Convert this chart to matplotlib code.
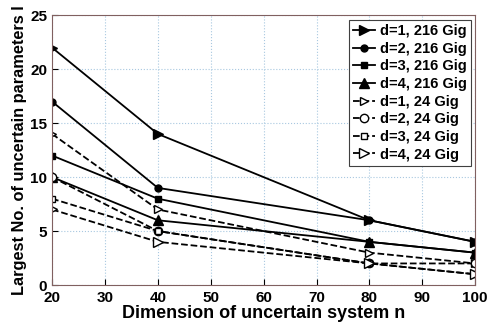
import matplotlib.pyplot as plt

plt.rcParams['font.family'] = ['Liberation Sans', 'DejaVu Sans']
plt.rcParams['font.weight'] = 'bold'

n = [20, 40, 80, 100]

# 216 Gig series
d1_216 = [22, 14, 6, 4]
d2_216 = [17, 9, 6, 4]
d3_216 = [12, 8, 4, 3]
d4_216 = [10, 6, 4, 3]

# 24 Gig series
d1_24 = [14, 7, 3, 2]
d2_24 = [10, 5, 2, 2]
d3_24 = [8, 5, 2, 1]
d4_24 = [7, 4, 2, 1]

fig = plt.figure(figsize=(4.96, 3.25), dpi=100)
ax = fig.add_axes([0.105, 0.123, 0.853, 0.83])

ax.plot(n, d1_216, 'k-', marker='>', ms=7, lw=1.3, label='d=1, 216 Gig')
ax.plot(n, d2_216, 'k-', marker='o', ms=5, lw=1.3, label='d=2, 216 Gig')
ax.plot(n, d3_216, 'k-', marker='s', ms=5, lw=1.3, label='d=3, 216 Gig')
ax.plot(n, d4_216, 'k-', marker='^', ms=7, lw=1.3, label='d=4, 216 Gig')
ax.plot(n, d1_24, 'k--', marker='>', ms=6, lw=1.3, mfc='white', label='d=1, 24 Gig')
ax.plot(n, d2_24, 'k--', marker='o', ms=6, lw=1.3, mfc='white', label='d=2, 24 Gig')
ax.plot(n, d3_24, 'k--', marker='s', ms=4.5, lw=1.3, mfc='white', label='d=3, 24 Gig')
ax.plot(n, d4_24, 'k--', marker='>', ms=7, lw=1.3, mfc='white', label='d=4, 24 Gig')

ax.set_xlim(20, 100)
ax.set_ylim(0, 25)
ax.set_xticks(range(20, 101, 10))
ax.set_yticks(range(0, 26, 5))
ax.tick_params(direction='in', labelsize=11, length=4)
ax.tick_params(axis='x', pad=4)
ax.grid(True, linestyle=':', color='#a8c8e0', lw=0.8)
for s in ax.spines.values():
    s.set_color('#806060')

ax.set_xlabel('Dimension of uncertain system n', fontsize=13, fontweight='bold', labelpad=0)
ax.set_ylabel('Largest No. of uncertain parameters l', fontsize=11.8, fontweight='bold', labelpad=2)

leg = ax.legend(loc='upper right', fontsize=10.5, handlelength=1.5, borderaxespad=0.3,
                labelspacing=0.25, handletextpad=0.3, fancybox=False, edgecolor='#404040',
                framealpha=1, borderpad=0.3)
leg.get_frame().set_linewidth(0.8)

fig.savefig('out.png', dpi=100)
